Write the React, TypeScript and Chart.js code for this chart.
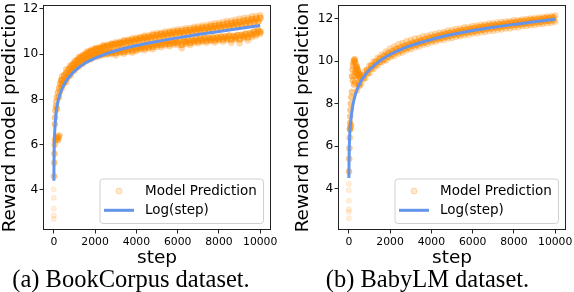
import React, { useEffect, useRef } from "react";
import { Chart, registerables } from "chart.js";

Chart.register(...registerables);

// ---------- text ----------
const X_TITLE = "step";
const Y_TITLE = "Reward model prediction";
const LEGEND_LABELS = ["Model Prediction", "Log(step)"];
const CAPTIONS = ["(a) BookCorpus dataset.", "(b) BabyLM dataset."];

// ---------- ticks / ranges ----------
const X_TICKS = [0, 2000, 4000, 6000, 8000, 10000];
const Y_TICKS = [4, 6, 8, 10, 12];
const X_RANGE = [-500, 10500];
const Y_RANGE_A = [2.25, 12.15];
const Y_RANGE_B = [2.07, 12.63];

// ---------- sample steps ----------
const STEPS_EVEN = [400, 600, 800, 1000, 1200, 1400, 1600, 1800, 2000, 2200, 2400, 2600, 2800, 3000, 3200, 3400, 3600, 3800, 4000, 4200, 4400, 4600, 4800, 5000, 5200, 5400, 5600, 5800, 6000, 6200, 6400, 6600, 6800, 7000, 7200, 7400, 7600, 7800, 8000, 8200, 8400, 8600, 8800, 9000, 9200, 9400, 9600, 9800, 10000];
const STEPS_ODD = [500, 700, 900, 1100, 1300, 1500, 1700, 1900, 2100, 2300, 2500, 2700, 2900, 3100, 3300, 3500, 3700, 3900, 4100, 4300, 4500, 4700, 4900, 5100, 5300, 5500, 5700, 5900, 6100, 6300, 6500, 6700, 6900, 7100, 7300, 7500, 7700, 7900, 8100, 8300, 8500, 8700, 8900, 9100, 9300, 9500, 9700, 9900];
const LOG_STEPS = [3, 10, 25, 50, 100, 150, 200, 300, 400, 500, 600, 800, 1000, 1500, 2000, 2500, 3000, 4000, 5000, 6000, 7000, 8000, 9000, 10000];

// ---------- (a) BookCorpus ----------
const A_HI = [9.02, 9.33, 9.5, 9.7, 9.86, 9.97, 10.12, 10.19, 10.27, 10.31, 10.4, 10.42, 10.47, 10.53, 10.55, 10.62, 10.64, 10.7, 10.73, 10.76, 10.82, 10.83, 10.9, 10.93, 10.95, 11.0, 11.01, 11.06, 11.09, 11.1, 11.14, 11.16, 11.21, 11.22, 11.27, 11.28, 11.32, 11.36, 11.38, 11.42, 11.46, 11.48, 11.52, 11.56, 11.6, 11.61, 11.67, 11.69, 11.72];
const A_UM = [8.85, 9.15, 9.4, 9.58, 9.76, 9.88, 10.02, 10.12, 10.2, 10.24, 10.33, 10.36, 10.42, 10.46, 10.49, 10.55, 10.58, 10.62, 10.66, 10.7, 10.74, 10.76, 10.82, 10.84, 10.88, 10.9, 10.94, 10.97, 11.0, 11.01, 11.05, 11.06, 11.11, 11.12, 11.16, 11.18, 11.22, 11.24, 11.27, 11.3, 11.34, 11.36, 11.4, 11.42, 11.47, 11.49, 11.54, 11.56, 11.6];
const A_LM = [8.65, 8.92, 9.16, 9.36, 9.52, 9.64, 9.77, 9.84, 9.93, 9.97, 10.02, 10.04, 10.07, 10.05, 10.12, 10.11, 10.18, 10.16, 10.22, 10.27, 10.27, 10.33, 10.33, 10.41, 10.41, 10.46, 10.45, 10.5, 10.5, 10.42, 10.53, 10.5, 10.58, 10.57, 10.62, 10.6, 10.65, 10.62, 10.68, 10.66, 10.71, 10.65, 10.74, 10.66, 10.79, 10.75, 10.86, 10.9, 10.98];
const A_LO = [8.5, 8.78, 9.05, 9.27, 9.43, 9.57, 9.7, 9.77, 9.86, 9.9, 9.96, 9.98, 10.01, 9.94, 10.05, 10.02, 10.1, 10.06, 10.14, 10.2, 10.17, 10.25, 10.22, 10.33, 10.3, 10.38, 10.35, 10.42, 10.4, 10.26, 10.45, 10.4, 10.5, 10.48, 10.55, 10.5, 10.58, 10.52, 10.6, 10.55, 10.62, 10.5, 10.65, 10.48, 10.7, 10.6, 10.75, 10.8, 10.9];
const A_MH = [9.05, 9.3, 9.52, 9.7, 9.86, 9.96, 10.08, 10.14, 10.23, 10.25, 10.31, 10.34, 10.41, 10.42, 10.47, 10.49, 10.54, 10.55, 10.61, 10.62, 10.68, 10.69, 10.75, 10.76, 10.81, 10.82, 10.87, 10.89, 10.93, 10.92, 10.96, 10.97, 11.03, 11.04, 11.08, 11.09, 11.13, 11.14, 11.18, 11.19, 11.23, 11.24, 11.29, 11.29, 11.35, 11.37, 11.43, 11.44];
const A_ML = [8.75, 9.05, 9.28, 9.45, 9.63, 9.72, 9.85, 9.92, 9.99, 10.02, 10.07, 10.09, 10.13, 10.15, 10.19, 10.21, 10.26, 10.27, 10.31, 10.34, 10.39, 10.41, 10.47, 10.49, 10.53, 10.54, 10.57, 10.57, 10.61, 10.57, 10.61, 10.61, 10.67, 10.67, 10.71, 10.71, 10.73, 10.73, 10.77, 10.77, 10.81, 10.79, 10.83, 10.84, 10.89, 10.91, 10.99, 11.04];
const A_EARLY_STEPS = [10, 20, 30, 40, 50, 60, 80, 100, 120, 150, 60, 100, 150, 180, 200, 230, 270, 150, 200, 250, 300, 350, 250, 300, 350];
const A_EARLY_VALS = [4.6, 5.2, 5.6, 6.0, 6.9, 7.2, 7.5, 7.7, 7.9, 8.1, 6.2, 6.3, 6.25, 6.35, 6.2, 6.3, 6.4, 7.6, 8.3, 8.5, 8.7, 8.85, 8.1, 8.35, 8.55];
const A_OUT_STEPS = [0, 0, 0, 0, 0];
const A_OUT_VALS = [4.03, 3.65, 3.17, 2.87, 2.72];
const A_LOG = [4.4, 5.36, 6.1, 6.7, 7.3, 7.65, 7.9, 8.22, 8.47, 8.66, 8.82, 9.06, 9.25, 9.6, 9.82, 10.0, 10.15, 10.38, 10.56, 10.72, 10.87, 11.0, 11.13, 11.27];

// ---------- (b) BabyLM ----------
const B_HI = [9.75, 9.28, 9.56, 9.8, 9.99, 10.17, 10.32, 10.46, 10.6, 10.7, 10.8, 10.86, 10.95, 11.0, 11.07, 11.1, 11.17, 11.2, 11.26, 11.3, 11.35, 11.38, 11.44, 11.47, 11.52, 11.54, 11.6, 11.61, 11.66, 11.68, 11.72, 11.74, 11.78, 11.79, 11.83, 11.85, 11.88, 11.89, 11.93, 11.94, 11.97, 11.99, 12.02, 12.03, 12.06, 12.08, 12.11, 12.12, 12.16];
const B_LO = [8.62, 8.95, 9.2, 9.44, 9.64, 9.8, 9.95, 10.04, 10.18, 10.25, 10.36, 10.42, 10.52, 10.57, 10.66, 10.7, 10.78, 10.82, 10.89, 10.92, 10.99, 11.01, 11.08, 11.1, 11.16, 11.18, 11.24, 11.25, 11.31, 11.32, 11.37, 11.38, 11.43, 11.44, 11.49, 11.5, 11.54, 11.55, 11.6, 11.6, 11.65, 11.66, 11.7, 11.71, 11.75, 11.76, 11.8, 11.81, 11.86];
const B_MH = [8.98, 9.32, 9.58, 9.79, 9.96, 10.12, 10.24, 10.36, 10.46, 10.56, 10.63, 10.72, 10.78, 10.86, 10.91, 10.98, 11.03, 11.09, 11.14, 11.19, 11.24, 11.29, 11.33, 11.37, 11.41, 11.45, 11.49, 11.52, 11.56, 11.59, 11.62, 11.65, 11.68, 11.71, 11.73, 11.76, 11.79, 11.81, 11.84, 11.86, 11.89, 11.91, 11.94, 11.96, 11.98, 12.01, 12.03, 12.06];
const B_ML = [8.86, 9.2, 9.45, 9.67, 9.84, 9.99, 10.1, 10.24, 10.33, 10.44, 10.51, 10.6, 10.66, 10.75, 10.79, 10.87, 10.91, 10.98, 11.02, 11.08, 11.11, 11.17, 11.2, 11.26, 11.28, 11.34, 11.36, 11.41, 11.43, 11.48, 11.5, 11.54, 11.56, 11.6, 11.61, 11.65, 11.67, 11.7, 11.72, 11.75, 11.77, 11.8, 11.82, 11.85, 11.86, 11.9, 11.91, 11.95];
const B_EARLY_STEPS = [10, 20, 30, 40, 50, 60, 70, 80, 100, 120, 150, 60, 80, 100, 150, 180, 200, 230, 250, 280, 300, 320, 350, 380, 400, 420, 450, 480, 500, 550, 200, 250, 300, 350, 400, 450, 500, 550, 250, 300];
const B_EARLY_VALS = [4.8, 5.4, 5.9, 6.4, 6.8, 7.1, 7.4, 7.7, 8.0, 8.3, 8.55, 6.8, 6.9, 7.0, 9.3, 9.6, 9.8, 9.95, 10.05, 10.1, 10.0, 9.9, 9.75, 9.7, 9.65, 9.6, 9.5, 9.45, 9.4, 9.35, 9.1, 9.3, 9.5, 9.55, 9.4, 9.3, 9.25, 9.2, 8.9, 9.0];
const B_OUT_STEPS = [0, 0, 0, 0, 0, 0];
const B_OUT_VALS = [4.22, 3.92, 3.42, 3.03, 2.9, 2.6];
const B_LOG = [4.5, 5.2, 6.0, 6.7, 7.23, 7.65, 7.95, 8.37, 8.66, 8.89, 9.08, 9.37, 9.6, 10.02, 10.32, 10.55, 10.74, 11.03, 11.26, 11.45, 11.6, 11.74, 11.86, 11.98];

// ---------- styles ----------
const FONT = "DejaVu Sans";
const BLUE = "#6495ED";
const orange = (a: number) => `rgba(255,140,0,${a})`;

type Panel = {
  rows: { xs: number[]; ys: number[]; core: boolean }[];
  earlySteps: number[]; earlyVals: number[];
  outSteps: number[]; outVals: number[];
  log: number[]; yRange: number[];
};
type Layout = { yWidth: number; padRight: number; yTitlePad: number };

const PANEL_A: Panel = {
  rows: [
    { xs: STEPS_EVEN, ys: A_HI, core: false },
    { xs: STEPS_EVEN, ys: A_UM, core: true },
    { xs: STEPS_ODD, ys: A_MH, core: true },
    { xs: STEPS_ODD, ys: A_ML, core: true },
    { xs: STEPS_EVEN, ys: A_LM, core: true },
    { xs: STEPS_EVEN, ys: A_LO, core: false },
  ],
  earlySteps: A_EARLY_STEPS, earlyVals: A_EARLY_VALS, outSteps: A_OUT_STEPS, outVals: A_OUT_VALS, log: A_LOG, yRange: Y_RANGE_A,
};
const PANEL_B: Panel = {
  rows: [
    { xs: STEPS_EVEN, ys: B_HI, core: false },
    { xs: STEPS_ODD, ys: B_MH, core: true },
    { xs: STEPS_ODD, ys: B_ML, core: true },
    { xs: STEPS_EVEN, ys: B_LO, core: false },
  ],
  earlySteps: B_EARLY_STEPS, earlyVals: B_EARLY_VALS, outSteps: B_OUT_STEPS, outVals: B_OUT_VALS, log: B_LOG, yRange: Y_RANGE_B,
};

const LAYOUT_A: Layout = { yWidth: 43.5, padRight: 16.5, yTitlePad: 0.7 };
const LAYOUT_B: Layout = { yWidth: 51.5, padRight: 8.5, yTitlePad: 7.1 };

const pts = (xs: number[], ys: number[]) => ys.map((y, i) => ({ x: xs[i], y }));

const scatterDs = (xs: number[], ys: number[], alpha: number, r: number) => ({
  type: "scatter",
  label: LEGEND_LABELS[0],
  data: pts(xs, ys),
  backgroundColor: orange(alpha),
  borderColor: orange(Math.min(1, alpha + 0.05)),
  borderWidth: 0.5,
  pointRadius: r,
  pointHoverRadius: r,
});

const overlayPlugin = {
  id: "overlay",
  afterDatasetsDraw(chart: any) {
    const { ctx, chartArea: a } = chart;
    ctx.save();
    ctx.strokeStyle = "#222";
    ctx.lineWidth = 1;
    ctx.strokeRect(a.left, a.top, a.right - a.left, a.bottom - a.top);
    const w = 163.5, h = 44.5;
    const right = Math.round(a.right - 7.5) + 0.5;
    const bottom = Math.round(a.bottom - 7) + 0.5;
    const left = right - w, top = bottom - h;
    ctx.beginPath();
    ctx.roundRect(left, top, w, h, 3);
    ctx.fillStyle = "rgba(255,255,255,0.85)";
    ctx.fill();
    ctx.strokeStyle = "#d0d0d0";
    ctx.lineWidth = 1;
    ctx.stroke();
    const row1 = top + 12, row2 = top + 31.3;
    ctx.beginPath();
    ctx.arc(left + 19, row1, 3, 0, Math.PI * 2);
    ctx.fillStyle = orange(0.2);
    ctx.fill();
    ctx.strokeStyle = orange(0.35);
    ctx.lineWidth = 0.8;
    ctx.stroke();
    ctx.beginPath();
    ctx.moveTo(left + 4, row2);
    ctx.lineTo(left + 34, row2);
    ctx.strokeStyle = BLUE;
    ctx.lineWidth = 3;
    ctx.stroke();
    ctx.fillStyle = "#000";
    ctx.font = `13.5px "${FONT}"`;
    ctx.textBaseline = "middle";
    ctx.textAlign = "left";
    ctx.fillText(LEGEND_LABELS[0], left + 45, row1);
    ctx.fillText(LEGEND_LABELS[1], left + 45, row2);
    ctx.restore();
  },
};

function buildConfig(p: Panel, lay: Layout): any {
  return {
    type: "scatter",
    data: {
      datasets: [
        {
          type: "line",
          label: LEGEND_LABELS[1],
          data: pts(LOG_STEPS, p.log),
          borderColor: BLUE,
          borderWidth: 3,
          pointRadius: 0,
          fill: false,
          showLine: true,
          cubicInterpolationMode: "monotone",
        },
        ...p.rows.map((r) => scatterDs(r.xs, r.ys, r.core ? 0.6 : 0.3, r.core ? 3.3 : 3)),
        scatterDs(p.earlySteps, p.earlyVals, 0.45, 3),
        scatterDs(p.outSteps, p.outVals, 0.15, 2.6),
      ],
    },
    options: {
      responsive: false,
      animation: false,
      events: [],
      layout: { padding: { left: 0, top: 5.5, right: lay.padRight, bottom: 0 } },
      plugins: { legend: { display: false }, tooltip: { enabled: false } },
      scales: {
        x: {
          type: "linear",
          min: X_RANGE[0],
          max: X_RANGE[1],
          afterBuildTicks: (s: any) => { s.ticks = X_TICKS.map((v) => ({ value: v })); },
          afterFit: (s: any) => { s.height = 40.5; s.paddingLeft = 0; s.paddingRight = 0; },
          ticks: { font: { family: FONT, size: 10.8 }, color: "#000", padding: 1.9, maxRotation: 0, autoSkip: false, callback: (v: number) => String(v) },
          grid: { display: true, drawOnChartArea: false, drawTicks: true, tickLength: 4, tickColor: "#222", tickWidth: 1 },
          border: { display: false },
          title: { display: true, text: X_TITLE, color: "#000", font: { family: FONT, size: 18.5, lineHeight: 1 }, padding: { top: 0, bottom: 3 } },
        },
        y: {
          type: "linear",
          min: p.yRange[0],
          max: p.yRange[1],
          afterBuildTicks: (s: any) => { s.ticks = Y_TICKS.map((v) => ({ value: v })); },
          afterFit: (s: any) => { s.width = lay.yWidth; s.paddingTop = 0; s.paddingBottom = 0; },
          ticks: { font: { family: FONT, size: 12.2 }, color: "#000", padding: 1.2, autoSkip: false, callback: (v: number) => String(v) },
          grid: { display: true, drawOnChartArea: false, drawTicks: true, tickLength: 4, tickColor: "#222", tickWidth: 1 },
          border: { display: false },
          title: { display: true, text: Y_TITLE, color: "#000", font: { family: FONT, size: 18.4, lineHeight: 1 }, padding: { top: lay.yTitlePad, bottom: 0 } },
        },
      },
    },
    plugins: [overlayPlugin],
  };
}

function PanelChart({ panel, layout, left }: { panel: Panel; layout: Layout; left: number }) {
  const ref = useRef<HTMLCanvasElement | null>(null);
  useEffect(() => {
    if (!ref.current) return;
    const chart = new Chart(ref.current, buildConfig(panel, layout));
    return () => chart.destroy();
  }, [panel, layout]);
  return (
    <canvas
      ref={ref}
      width={287}
      height={270}
      style={{ position: "absolute", left, top: 0, width: 287, height: 270 }}
    />
  );
}

const captionStyle: React.CSSProperties = {
  position: "absolute",
  top: 267,
  fontFamily: '"Liberation Serif", "Times New Roman", serif',
  fontSize: 24.5,
  lineHeight: "24px",
  textAlign: "center",
  color: "#000",
  whiteSpace: "nowrap",
};

export default function App() {
  return (
    <div style={{ position: "fixed", left: 0, top: 0, width: 574, height: 292, background: "#fff", overflow: "hidden" }}>
      <PanelChart panel={PANEL_A} layout={LAYOUT_A} left={0} />
      <PanelChart panel={PANEL_B} layout={LAYOUT_B} left={287} />
      <div style={{ ...captionStyle, left: 0, width: 262 }}>{CAPTIONS[0]}</div>
      <div style={{ ...captionStyle, left: 300, width: 255 }}>{CAPTIONS[1]}</div>
    </div>
  );
}
